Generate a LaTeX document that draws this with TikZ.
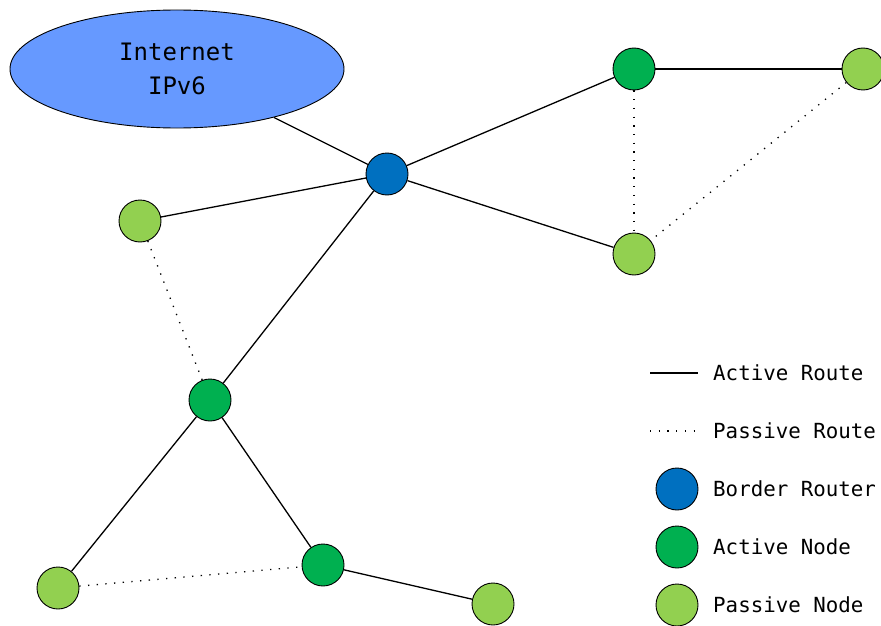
\documentclass[tikz,border=0pt]{standalone}
\usepackage{fontspec}
\setmonofont{DejaVu Sans Mono}
\usetikzlibrary{shapes.geometric}

\definecolor{netblue}{HTML}{6699FF}
\definecolor{borderblue}{HTML}{0070C0}
\definecolor{activegreen}{HTML}{00B050}
\definecolor{passivegreen}{HTML}{92D050}

\begin{document}
\begin{tikzpicture}[x=1pt,y=-1pt,
    mote/.style={circle,draw=black,line width=0.9pt,minimum size=42pt,inner sep=0pt},
    border/.style={mote,fill=borderblue},
    active/.style={mote,fill=activegreen},
    passive/.style={mote,fill=passivegreen},
    activeroute/.style={line width=1.3pt},
    passiveroute/.style={line width=1.3pt,dash pattern=on 1.3pt off 7.4pt},
    legendtext/.style={anchor=west,inner sep=0pt,font=\ttfamily\fontsize{20.8}{25}\selectfont}]
                      \useasboundingbox (0,0) rectangle (881,626);
                      \node[ellipse,draw=black,line width=0.9pt,fill=netblue,minimum width=334pt,minimum height=118pt,inner sep=0pt,align=center,font=\ttfamily\fontsize{24}{34}\selectfont](net)at(177,69){Internet\\IPv6};
                      \node[border](br)at(387,174){};
                      \node[active](a1)at(634,69){};
                      \node[passive](p1)at(863,69){};
                      \node[passive](p2)at(634,254){};
                      \node[passive](p3)at(140,221){};
                      \node[active](a2)at(210,400){};
                      \node[passive](p4)at(58,588){};
                      \node[active](a3)at(323,565){};
                      \node[passive](p5)at(493,604){};
                      % active routes
                      \draw[activeroute] (net)--(br);
                      \draw[activeroute] (br)--(a1);
                      \draw[activeroute] (a1)--(p1);
                      \draw[activeroute] (br)--(p2);
                      \draw[activeroute] (br)--(p3);
                      \draw[activeroute] (br)--(a2);
                      \draw[activeroute] (a2)--(p4);
                      \draw[activeroute] (a2)--(a3);
                      \draw[activeroute] (a3)--(p5);
                      % passive routes
                      \draw[passiveroute] (p3)--(a2);
                      \draw[passiveroute] (a1)--(p2);
                      \draw[passiveroute] (p1)--(p2);
                      \draw[passiveroute] (p4)--(a3);
                      % legend
                      \coordinate (la1)at(650,373);
                      \coordinate (la2)at(698,373);
                      \draw[activeroute] (la1)--(la2);
                      \coordinate (lp1)at(650,431);
                      \coordinate (lp2)at(698,431);
                      \draw[passiveroute] (lp1)--(lp2);
                      \node[legendtext](tar)at(713,373){Active Route};
                      \node[legendtext](tpr)at(713,431){Passive Route};
                      \node[border](lb)at(677,489){};
                      \node[legendtext](tbr)at(713,489){Border Router};
                      \node[active](la)at(677,547){};
                      \node[legendtext](tan)at(713,547){Active Node};
                      \node[passive](lp)at(677,605){};
                      \node[legendtext](tpn)at(713,605){Passive Node};
                  \end{tikzpicture}
\end{document}
